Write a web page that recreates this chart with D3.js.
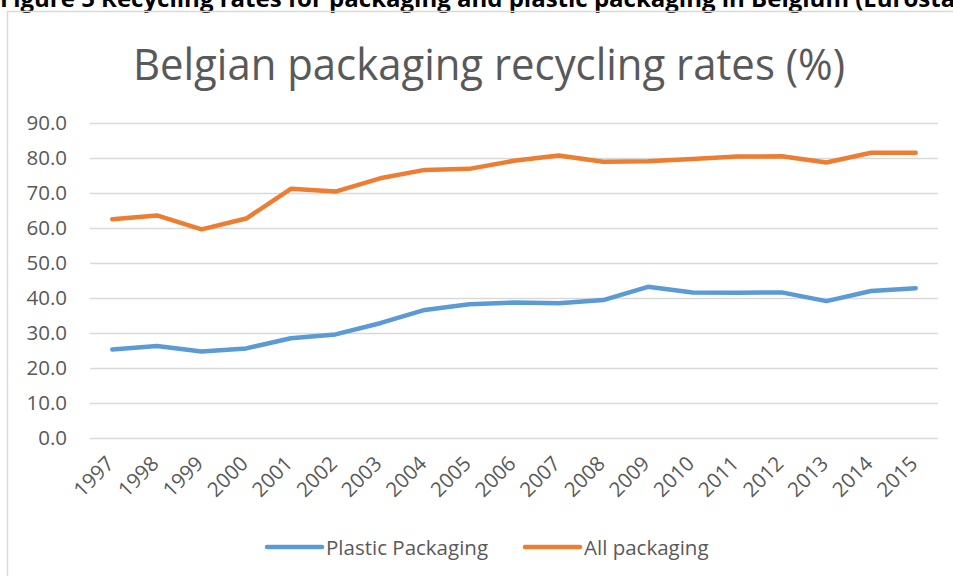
<!DOCTYPE html>
<html>
<head>
<meta charset="utf-8">
<script src="https://cdn.jsdelivr.net/npm/d3@7"></script>
<style>
  body { margin: 0; background: #fff; }
  svg { display: block; font-family: "Open Sans", sans-serif; }
</style>
</head>
<body>
<svg id="chart" width="953" height="576"></svg>
<script>
const years = ["1997", "1998", "1999", "2000", "2001", "2002", "2003", "2004", "2005", "2006",
    "2007", "2008", "2009", "2010", "2011", "2012", "2013", "2014", "2015"];
const plastic = [25.3, 26.3, 24.7, 25.6, 28.5, 29.6, 32.8, 36.6, 38.2, 38.7,
    38.5, 39.4, 43.2, 41.6, 41.5, 41.6, 39.1, 42.0, 42.8];
const allPack = [62.5, 63.6, 59.6, 62.7, 71.2, 70.4, 74.2, 76.6, 76.9, 79.2,
    80.7, 78.9, 79.1, 79.7, 80.4, 80.5, 78.7, 81.5, 81.5];
const yTicks = [0, 10, 20, 30, 40, 50, 60, 70, 80, 90];
const seriesNames = ["Plastic Packaging", "All packaging"];
const colors = ["#5B9BD5", "#ED7D31"];

const svg = d3.select("#chart");
const plotLeft = 90, plotRight = 938, plotTop = 123, plotBottom = 438;

// caption above the chart box (cut off in the original)
svg.append("text")
    .attr("x", 0)
    .attr("y", 6.5)
    .attr("font-size", 24)
    .attr("font-weight", "bold")
    .attr("fill", "#000")
    .text("Figure 5 Recycling rates for packaging and plastic packaging in Belgium (Eurostat)");

// chart area border
svg.append("rect")
    .attr("x", 7.5).attr("y", 11.5)
    .attr("width", 1000).attr("height", 600)
    .attr("fill", "none")
    .attr("stroke", "#D9D9D9")
    .attr("stroke-width", 1.5);

svg.append("text")
    .attr("x", 489)
    .attr("y", 80)
    .attr("text-anchor", "middle")
    .attr("font-size", 43)
    .attr("fill", "#595959")
    .attr("textLength", 712)
    .attr("lengthAdjust", "spacingAndGlyphs")
    .text("Belgian packaging recycling rates (%)");

const x = d3.scaleBand().domain(years).range([plotLeft, plotRight]).padding(0);
const y = d3.scaleLinear().domain([0, 90]).range([plotBottom, plotTop]);

const yAxis = svg.append("g")
    .attr("transform", "translate(" + plotLeft + ",0)")
    .call(d3.axisLeft(y).tickValues(yTicks).tickFormat(d3.format(".1f"))
        .tickSize(-(plotRight - plotLeft)).tickPadding(23));
yAxis.select(".domain").remove();
yAxis.selectAll("line").attr("stroke", "#D9D9D9").attr("stroke-width", 1.5);
yAxis.selectAll("text").attr("font-size", 20.5).attr("fill", "#595959")
    .attr("font-family", "Open Sans, sans-serif");

const xAxis = svg.append("g")
    .attr("transform", "translate(0," + plotBottom + ")")
    .call(d3.axisBottom(x).tickSize(0).tickPadding(0));
xAxis.select(".domain").remove();
xAxis.selectAll("text")
    .attr("font-size", 20.5)
    .attr("fill", "#595959")
    .attr("font-family", "Open Sans, sans-serif")
    .attr("text-anchor", "end")
    .attr("dy", null)
    .attr("y", 0)
    .attr("transform", "translate(3,27) rotate(-45)");

const line = d3.line()
    .x((d, i) => x(years[i]) + x.bandwidth() / 2)
    .y(d => y(d));

[plastic, allPack].forEach((vals, k) => {
    svg.append("path")
        .datum(vals)
        .attr("fill", "none")
        .attr("stroke", colors[k])
        .attr("stroke-width", 4.5)
        .attr("stroke-linejoin", "round")
        .attr("stroke-linecap", "round")
        .attr("d", line);
});

// legend
const legendX = [267, 525];
seriesNames.forEach((name, k) => {
    const g = svg.append("g").attr("transform", "translate(" + legendX[k] + ",547)");
    g.append("line")
        .attr("x1", 0).attr("x2", 55)
        .attr("stroke", colors[k])
        .attr("stroke-width", 4.5)
        .attr("stroke-linecap", "round");
    g.append("text")
        .attr("x", 59)
        .attr("y", 7.5)
        .attr("font-size", 20.5)
        .attr("fill", "#595959")
        .text(name);
});
</script>
</body>
</html>
